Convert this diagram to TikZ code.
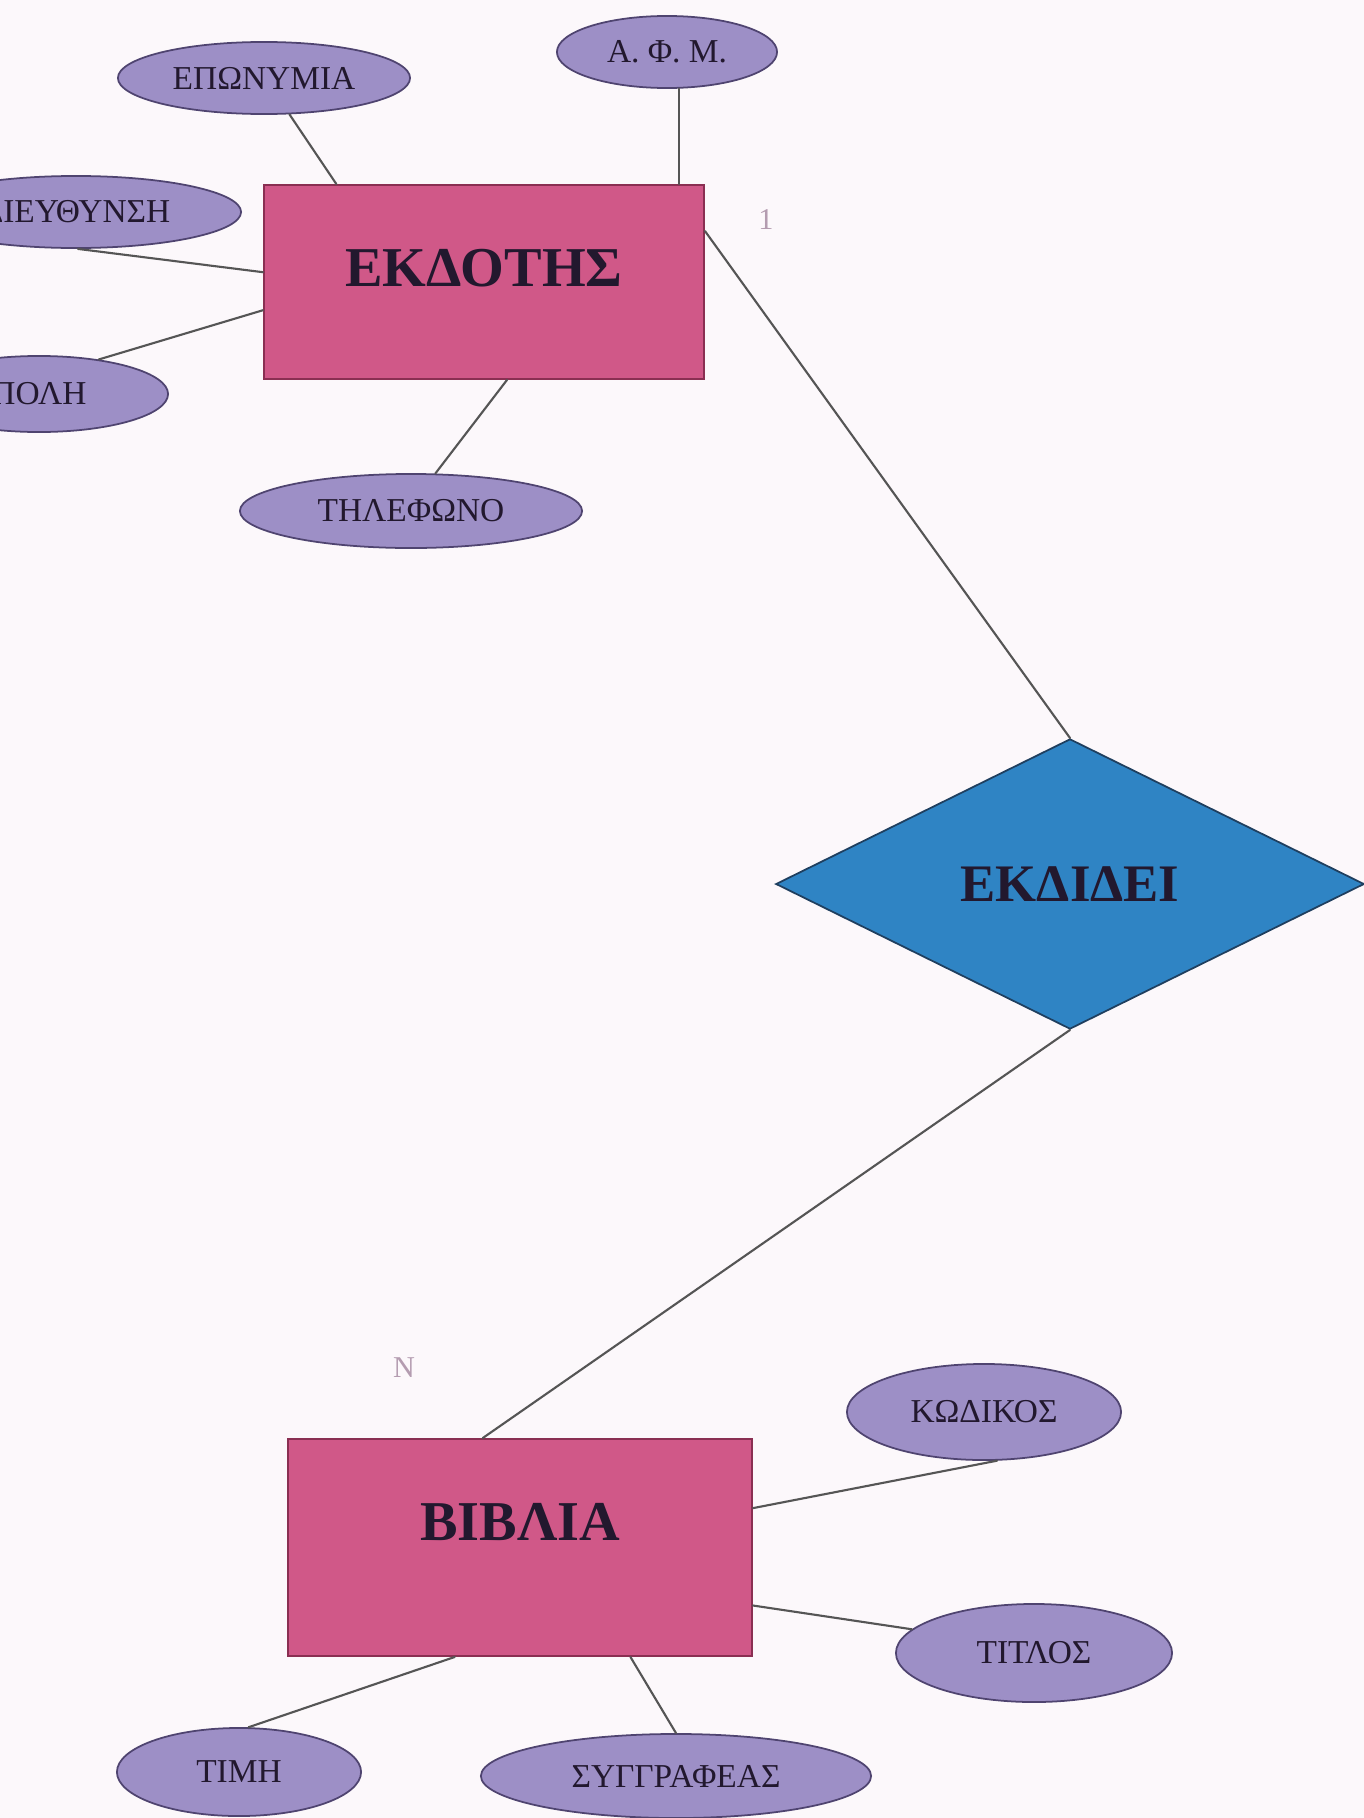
\documentclass[tikz,border=0pt]{standalone}
\usepackage{fontspec}
\setmainfont{Liberation Serif}
\usepackage{tikz}
\usetikzlibrary{calc,shapes.geometric}
\definecolor{bg}{HTML}{FCF8FB}
\definecolor{entfill}{HTML}{D05888}
\definecolor{entline}{HTML}{8A2F52}
\definecolor{attrfill}{HTML}{9D8FC6}
\definecolor{attrline}{HTML}{4F4470}
\definecolor{relfill}{HTML}{2F84C4}
\definecolor{relline}{HTML}{1F3F5F}
\definecolor{wire}{HTML}{555555}
\definecolor{muted}{HTML}{B49CB0}
\definecolor{ink}{HTML}{22182E}
\tikzset{
  ent/.style={draw=entline, fill=entfill, line width=0.5pt, inner sep=0pt, text=ink, font=\fontsize{16}{18}\selectfont\bfseries},
  attr/.style={ellipse, draw=attrline, fill=attrfill, line width=0.5pt, inner sep=0pt, text=ink, font=\fontsize{9.5}{11}\selectfont},
  rel/.style={diamond, aspect=2, draw=relline, fill=relfill, line width=0.5pt, inner sep=0pt, text=ink, font=\fontsize{15}{17}\selectfont\bfseries},
  link/.style={draw=wire, line width=0.6pt, line cap=round},
  card/.style={text=muted, inner sep=0pt, font=\fontsize{8.6}{10}\selectfont},
}
\begin{document}
\begin{tikzpicture}[x=0.01cm, y=-0.01cm]
  \fill[bg] (0,0) rectangle (1364,1818);
  \useasboundingbox (0,0) rectangle (1364,1818);
  \clip (0,0) rectangle (1364,1818);

  \node[attr, minimum width=2.92cm, minimum height=0.72cm] (epon) at (264,78) {ΕΠΩΝΥΜΙΑ};
  \node[attr, minimum width=2.2cm, minimum height=0.72cm] (afm) at (667,52) {Α. Φ. Μ.};
  \node[attr, minimum width=3.3cm, minimum height=0.72cm] (dieu) at (76,212) {ΔΙΕΥΘΥΝΣΗ};
  \node[attr, minimum width=2.58cm, minimum height=0.76cm] (pol) at (39,394) {ΠΟΛΗ};
  \node[attr, minimum width=3.42cm, minimum height=0.74cm] (til) at (411,511) {ΤΗΛΕΦΩΝΟ};
  \node[ent, minimum width=4.4cm, minimum height=1.94cm, text height=0.4cm, text depth=0.31cm] (ekd) at (484,282) {ΕΚΔΟΤΗΣ};

  \node[rel, minimum width=5.88cm, minimum height=2.9cm] (ekdidei) at (1070,884) {ΕΚΔΙΔΕΙ};

  \node[ent, minimum width=4.64cm, minimum height=2.17cm, text height=0.3cm, text depth=0.45cm] (vivl) at (520,1547.5) {ΒΙΒΛΙΑ};
  \node[attr, minimum width=2.74cm, minimum height=0.96cm] (kod) at (984,1412) {ΚΩΔΙΚΟΣ};
  \node[attr, minimum width=2.76cm, minimum height=0.98cm] (tit) at (1034,1653) {ΤΙΤΛΟΣ};
  \node[attr, minimum width=2.44cm, minimum height=0.88cm] (tim) at (239,1772) {ΤΙΜΗ};
  \node[attr, minimum width=3.9cm, minimum height=0.84cm] (syg) at (676,1776) {ΣΥΓΓΡΑΦΕΑΣ};

  \node[card] (one) at (766,220) {1};
  \node[card] (many) at (404,1368) {N};

  \draw[link] (epon.-55) -- ($(ekd.north west)!0.166!(ekd.north east)$);
  \draw[link] (afm.-72) -- (afm.-72 |- ekd.north);
  \draw[link] (dieu.-87) -- ($(ekd.north west)!0.45!(ekd.south west)$);
  \draw[link] (pol.30) -- ($(ekd.north west)!0.644!(ekd.south west)$);
  \draw[link] (til.57) -- ($(ekd.south west)!0.552!(ekd.south east)$);
  \draw[link] ($(ekd.north east)!0.24!(ekd.south east)$) -- (ekdidei.north);
  \draw[link] (ekdidei.south) -- ($(vivl.north west)!0.42!(vivl.north east)$);
  \draw[link] ($(vivl.north east)!0.32!(vivl.south east)$) -- (kod.-75);
  \draw[link] ($(vivl.north east)!0.765!(vivl.south east)$) -- (tit.169);
  \draw[link] ($(vivl.south west)!0.36!(vivl.south east)$) -- (tim.78);
  \draw[link] ($(vivl.south west)!0.737!(vivl.south east)$) -- (syg.north);
\end{tikzpicture}
\end{document}
